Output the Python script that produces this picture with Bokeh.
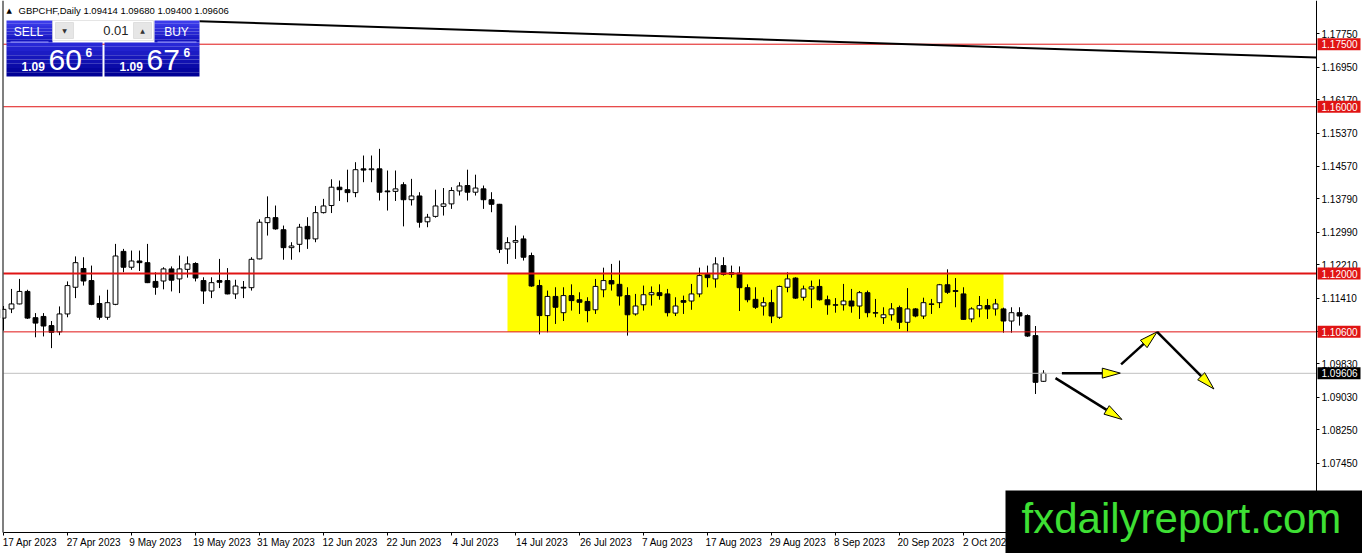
import math
from bokeh.plotting import figure
from bokeh.models import (ColumnDataSource, Range1d, FixedTicker, PrintfTickFormatter,
                          BoxAnnotation, Label)
from bokeh.embed import file_html
from bokeh.resources import INLINE

# GBPCHF daily candles, one per trading day from 17 Apr 2023 to 16 Oct 2023
opens = [1.1093, 1.1115, 1.1127, 1.1157, 1.1094, 1.1097, 1.1075, 1.1060, 1.1103, 1.1167,
         1.1212, 1.1183, 1.1128, 1.1095, 1.1126, 1.1253, 1.1215, 1.1230, 1.1226, 1.1181,
         1.1182, 1.1211, 1.1187, 1.1210, 1.1224, 1.1183, 1.1158, 1.1183, 1.1183, 1.1151,
         1.1167, 1.1166, 1.1235, 1.1322, 1.1334, 1.1305, 1.1262, 1.1270, 1.1313, 1.1283,
         1.1346, 1.1363, 1.1407, 1.1401, 1.1394, 1.1451, 1.1449, 1.1451, 1.1398, 1.1397,
         1.1413, 1.1377, 1.1386, 1.1324, 1.1337, 1.1361, 1.1367, 1.1398, 1.1411, 1.1395,
         1.1403, 1.1377, 1.1366, 1.1259, 1.1275, 1.1283, 1.1243, 1.1171, 1.1099, 1.1145,
         1.1106, 1.1147, 1.1137, 1.1133, 1.1113, 1.1161, 1.1183, 1.1174, 1.1147, 1.1103,
         1.1125, 1.1149, 1.1154, 1.1151, 1.1105, 1.1135, 1.1134, 1.1151, 1.1198, 1.1187,
         1.1219, 1.1198, 1.1201, 1.1166, 1.1138, 1.1122, 1.1130, 1.1095, 1.1167, 1.1189,
         1.1143, 1.1163, 1.1169, 1.1137, 1.1125, 1.1125, 1.1134, 1.1122, 1.1154, 1.1106,
         1.1094, 1.1101, 1.1118, 1.1083, 1.1115, 1.1098, 1.1127, 1.1130, 1.1173, 1.1159,
         1.1151, 1.1091, 1.1115, 1.1123, 1.1115, 1.1115, 1.1086, 1.1106, 1.1099, 1.1051,
         1.09414]
highs = [1.1122, 1.1163, 1.1187, 1.1161, 1.1105, 1.1105, 1.1086, 1.1121, 1.1181, 1.1241,
         1.1239, 1.1219, 1.1147, 1.1161, 1.1271, 1.1259, 1.1255, 1.1255, 1.1271, 1.1203,
         1.1215, 1.1217, 1.1243, 1.1241, 1.1227, 1.1191, 1.1191, 1.1235, 1.1213, 1.1185,
         1.1182, 1.1239, 1.1330, 1.1385, 1.1363, 1.1315, 1.1275, 1.1319, 1.1335, 1.1362,
         1.1379, 1.1426, 1.1423, 1.1449, 1.1467, 1.1483, 1.1483, 1.1499, 1.1447, 1.1447,
         1.1419, 1.1427, 1.1395, 1.1343, 1.1401, 1.1405, 1.1407, 1.1419, 1.1449, 1.1437,
         1.1411, 1.1395, 1.1367, 1.1287, 1.1315, 1.1291, 1.1250, 1.1185, 1.1159, 1.1167,
         1.1167, 1.1174, 1.1155, 1.1143, 1.1187, 1.1214, 1.1223, 1.1231, 1.1167, 1.1151,
         1.1171, 1.1169, 1.1174, 1.1163, 1.1143, 1.1147, 1.1175, 1.1214, 1.1219, 1.1239,
         1.1239, 1.1219, 1.1217, 1.1174, 1.1167, 1.1143, 1.1161, 1.1171, 1.1203, 1.1191,
         1.1171, 1.1183, 1.1186, 1.1147, 1.1141, 1.1175, 1.1163, 1.1158, 1.1159, 1.1139,
         1.1119, 1.1129, 1.1123, 1.1165, 1.1117, 1.1142, 1.1139, 1.1175, 1.1210, 1.1189,
         1.1167, 1.1119, 1.1146, 1.1139, 1.1139, 1.1118, 1.1119, 1.1119, 1.1102, 1.1074,
         1.09680]
lows = [1.1063, 1.1105, 1.1126, 1.1091, 1.1047, 1.1049, 1.1021, 1.1052, 1.1095, 1.1141,
        1.1171, 1.1124, 1.1089, 1.1089, 1.1124, 1.1203, 1.1209, 1.1206, 1.1177, 1.1149,
        1.1162, 1.1157, 1.1153, 1.1190, 1.1181, 1.1127, 1.1141, 1.1165, 1.1150, 1.1139,
        1.1141, 1.1159, 1.1234, 1.1291, 1.1305, 1.1233, 1.1233, 1.1251, 1.1259, 1.1275,
        1.1344, 1.1345, 1.1374, 1.1371, 1.1383, 1.1419, 1.1419, 1.1375, 1.1351, 1.1374,
        1.1313, 1.1363, 1.1310, 1.1311, 1.1334, 1.1339, 1.1355, 1.1387, 1.1375, 1.1387,
        1.1355, 1.1347, 1.1249, 1.1223, 1.1235, 1.1231, 1.1168, 1.1054, 1.1059, 1.1079,
        1.1086, 1.1111, 1.1103, 1.1083, 1.1103, 1.1143, 1.1159, 1.1123, 1.1051, 1.1099,
        1.1111, 1.1123, 1.1137, 1.1097, 1.1098, 1.1103, 1.1113, 1.1143, 1.1167, 1.1166,
        1.1195, 1.1190, 1.1110, 1.1131, 1.1115, 1.1099, 1.1081, 1.1091, 1.1155, 1.1139,
        1.1135, 1.1117, 1.1135, 1.1101, 1.1106, 1.1111, 1.1106, 1.1091, 1.1095, 1.1095,
        1.1079, 1.1087, 1.1067, 1.1061, 1.1095, 1.1091, 1.1103, 1.1117, 1.1151, 1.1119,
        1.1089, 1.1083, 1.1095, 1.1091, 1.1099, 1.1058, 1.1058, 1.1075, 1.1048, 1.0911,
        1.09400]
closes = [1.1114, 1.1127, 1.1157, 1.1093, 1.1081, 1.1074, 1.1059, 1.1103, 1.1171, 1.1226,
          1.1182, 1.1126, 1.1095, 1.1130, 1.1242, 1.1215, 1.1230, 1.1226, 1.1178, 1.1167,
          1.1211, 1.1184, 1.1211, 1.1223, 1.1189, 1.1158, 1.1178, 1.1179, 1.1151, 1.1170,
          1.1165, 1.1234, 1.1323, 1.1334, 1.1307, 1.1262, 1.1266, 1.1311, 1.1283, 1.1346,
          1.1362, 1.1407, 1.1401, 1.1394, 1.1449, 1.1448, 1.1451, 1.1395, 1.1396, 1.1403,
          1.1377, 1.1386, 1.1323, 1.1335, 1.1362, 1.1367, 1.1399, 1.1410, 1.1395, 1.1405,
          1.1377, 1.1366, 1.1258, 1.1274, 1.1279, 1.1239, 1.1170, 1.1099, 1.1145, 1.1119,
          1.1147, 1.1135, 1.1131, 1.1111, 1.1169, 1.1183, 1.1175, 1.1146, 1.1101, 1.1122,
          1.1149, 1.1154, 1.1147, 1.1106, 1.1122, 1.1131, 1.1151, 1.1195, 1.1190, 1.1223,
          1.1198, 1.1202, 1.1166, 1.1137, 1.1119, 1.1130, 1.1098, 1.1169, 1.1187, 1.1141,
          1.1163, 1.1168, 1.1137, 1.1125, 1.1124, 1.1134, 1.1122, 1.1154, 1.1106, 1.1105,
          1.1101, 1.1115, 1.1083, 1.1115, 1.1098, 1.1130, 1.1126, 1.1173, 1.1155, 1.1157,
          1.1090, 1.1115, 1.1123, 1.1115, 1.1127, 1.1086, 1.1106, 1.1098, 1.1050, 1.0939,
          1.09606]

# one date label every 8 bars
date_labels = ["17 Apr 2023", "27 Apr 2023", "9 May 2023", "19 May 2023", "31 May 2023",
               "12 Jun 2023", "22 Jun 2023", "4 Jul 2023", "14 Jul 2023", "26 Jul 2023",
               "7 Aug 2023", "17 Aug 2023", "29 Aug 2023", "8 Sep 2023", "20 Sep 2023",
               "2 Oct 2023"]
price_ticks = [1.17750, 1.16950, 1.16170, 1.15370, 1.14570, 1.13790, 1.12990, 1.12210,
               1.11410, 1.10620, 1.09830, 1.09030, 1.08250, 1.07450]

levels = [1.17500, 1.16000, 1.12000, 1.10600]
ask_price = 1.09676

zone_bars = [63, 125]
zone_prices = [1.10600, 1.12000]

trend_x = [24.5, 164.1]
trend_y = [1.1805, 1.1718]

arrow_x0 = [132.3, 139.7, 144.2, 131.5]
arrow_y0 = [1.0961, 1.0982, 1.1060, 1.0949]
arrow_x1 = [139.6, 144.2, 151.3, 139.8]
arrow_y1 = [1.0961, 1.1060, 1.0923, 1.0850]

# pixel geometry of the chart window
PX_X = 8.0      # px per bar
PX_Y = 4169.0   # px per price unit


def sx(px):
    return (px - 3) / PX_X


def sy(py):
    return 1.12 + (273 - py) / PX_Y


RED = "#e01414"
FONT = "Liberation Sans"

x_lo, x_hi = sx(3), sx(1316)      # chart area
y_lo, y_hi = sy(532), sy(0)

p = figure(width=1362, height=553, output_backend="svg", toolbar_location=None,
           x_range=Range1d(sx(0), sx(1362)), y_range=Range1d(sy(553), sy(0)),
           y_axis_location="right", min_border=0,
           background_fill_color="white", border_fill_color="white",
           outline_line_color=None)
p.grid.visible = False

# price scale
yax = p.yaxis[0]
yax.fixed_location = x_hi
yax.bounds = (y_lo, y_hi)
yax.ticker = FixedTicker(ticks=price_ticks)
yax.formatter = PrintfTickFormatter(format="%.5f")
yax.major_tick_in = 0
yax.major_tick_out = 3
yax.minor_tick_line_color = None
yax.major_label_standoff = 2
yax.major_label_text_font = FONT
yax.major_label_text_font_size = "10px"
yax.major_label_text_color = "black"

# time scale: labels start at their tick, as in the terminal
date_pos = [i * 8 for i in range(len(date_labels))]
label_pos = [d + len(s) * 0.3 for d, s in zip(date_pos, date_labels)]
xax = p.xaxis[0]
xax.fixed_location = y_lo
xax.bounds = (x_lo, x_hi)
xax.ticker = FixedTicker(ticks=label_pos)
xax.major_label_overrides = {pos: lab for pos, lab in zip(label_pos, date_labels)}
xax.major_tick_line_color = None
xax.major_tick_in = 0
xax.major_tick_out = 0
xax.minor_tick_line_color = None
xax.major_label_standoff = 4
xax.major_label_text_font = FONT
xax.major_label_text_font_size = "10px"
xax.major_label_text_color = "black"
p.segment(x0=date_pos, y0=[y_lo] * len(date_pos), x1=date_pos,
          y1=[sy(535)] * len(date_pos), line_color="black", line_width=1)

# support / resistance zone
p.add_layout(BoxAnnotation(left=zone_bars[0], right=zone_bars[1],
                           bottom=zone_prices[0], top=zone_prices[1],
                           fill_color="#ffff00", fill_alpha=1, line_color=None,
                           level="underlay"))

# candles
idx = list(range(len(opens)))
src = ColumnDataSource(dict(
    idx=idx, high=highs, low=lows,
    top=[max(o, c) for o, c in zip(opens, closes)],
    bottom=[min(o, c) for o, c in zip(opens, closes)],
    fill=["white" if c >= o else "black" for o, c in zip(opens, closes)],
))
p.segment(x0="idx", y0="high", x1="idx", y1="low", source=src, line_color="black", line_width=1)
p.vbar(x="idx", width=0.6, top="top", bottom="bottom", source=src,
       fill_color="fill", line_color="black", line_width=1)

# horizontal levels
p.segment(x0=[x_lo] * len(levels), y0=levels, x1=[x_hi] * len(levels), y1=levels,
          line_color=RED, line_width=[2 if lv == 1.12 else 1 for lv in levels])
p.segment(x0=[x_lo], y0=[closes[-1]], x1=[x_hi], y1=[closes[-1]],
          line_color="#c0c0c0", line_width=1)

# trend line
p.line(trend_x, trend_y, line_color="black", line_width=2)

# arrows
HEAD_LEN, HEAD_W = 18.0, 5.0
shaft_xs, shaft_ys, head_xs, head_ys = [], [], [], []
for x0, y0, x1, y1 in zip(arrow_x0, arrow_y0, arrow_x1, arrow_y1):
    dx = (x1 - x0) * PX_X
    dy = (y1 - y0) * PX_Y
    d = math.hypot(dx, dy)
    ux, uy = dx / d, dy / d
    bx, by = x1 - ux * HEAD_LEN / PX_X, y1 - uy * HEAD_LEN / PX_Y
    nx, ny = -uy, ux
    shaft_xs.append([x0, bx])
    shaft_ys.append([y0, by])
    head_xs.append([x1, bx + nx * HEAD_W / PX_X, bx - nx * HEAD_W / PX_X])
    head_ys.append([y1, by + ny * HEAD_W / PX_Y, by - ny * HEAD_W / PX_Y])
p.multi_line(shaft_xs, shaft_ys, line_color="black", line_width=2.5)
p.patches(head_xs, head_ys, fill_color="#ffff00", line_color="black", line_width=1)


def box(x0, x1, y0, y1, color, line=None):
    p.add_layout(BoxAnnotation(left=sx(x0), right=sx(x1), top=sy(y0), bottom=sy(y1),
                               fill_color=color, fill_alpha=1, line_color=line,
                               level="overlay"))


def grad(x0, x1, y0, y1, c0, c1, n=8):
    for k in range(n):
        t = k / (n - 1)
        col = "#%02x%02x%02x" % tuple(int(a + (b - a) * t) for a, b in zip(c0, c1))
        box(x0, x1, y0 + (y1 - y0) * k / n, y0 + (y1 - y0) * (k + 1) / n, col)


def text(x, y, s, size, color="white", font=FONT, align="left", style="normal",
         baseline="middle"):
    p.add_layout(Label(x=sx(x), y=sy(y), text=s, text_font=font, text_font_size=size,
                       text_color=color, text_align=align, text_baseline=baseline,
                       text_font_style=style, level="overlay"))


# left edge of the chart window
box(0, 2, 0, 532, "white")
box(2, 3, 0, 532, "black")

# price labels on the right scale
for lv in levels:
    yy = 273 - (lv - 1.12) * PX_Y
    box(1317, 1360, yy - 6, yy + 6, RED)
    text(1321, yy, "%.5f" % lv, "10px")
yy = 273 - (closes[-1] - 1.12) * PX_Y
box(1317, 1360, yy - 6, yy + 6, "black")
text(1321, yy, "%.5f" % closes[-1], "10px")

# header
text(6, 10, "\u25b2", "7px", color="black", font="DejaVu Sans")
text(18, 10, "GBPCHF,Daily  %.5f %.5f %.5f %.5f" % (opens[-1], highs[-1], lows[-1], closes[-1]),
     "9.5px", color="black")

# one click trading panel
grad(6, 52, 20, 42, (60, 60, 235), (20, 20, 190))
grad(154, 199, 20, 42, (60, 60, 235), (20, 20, 190))
box(52, 153, 20, 40, "white", line="#a8a8a8")
box(55, 73, 22, 38, "#e6e6e6", line="#b4b4b4")
box(133, 151, 22, 38, "#e6e6e6", line="#b4b4b4")
text(64, 30, "\u25bc", "6px", color="#333333", font="DejaVu Sans", align="center")
text(142, 30, "\u25b2", "6px", color="#333333", font="DejaVu Sans", align="center")
text(128, 30, "0.01", "13px", color="#222222", align="right")
text(28, 31, "SELL", "12px", align="center")
text(176, 31, "BUY", "12px", align="center")
grad(6, 102, 42, 76, (40, 40, 215), (0, 0, 150))
grad(104, 199, 42, 76, (40, 40, 215), (0, 0, 150))
box(10, 48, 41, 42, "#9a9aff")
box(157, 196, 41, 42, "#9a9aff")
for x_big, bid_ask in ((21, closes[-1]), (119, ask_price)):
    s = "%.5f" % bid_ask
    text(x_big, 65.5, s[:4], "12px", style="bold", baseline="alphabetic")
    text(x_big + 27, 59, s[4:6], "30px", baseline="alphabetic")
    text(x_big + 64, 51.5, s[6], "12px", style="bold", baseline="alphabetic")

# watermark
box(1005, 1362, 490, 553, "black")
text(1021, 517.5, "fxdailyreport.com", "42px", color="#3ee034", baseline="alphabetic")

open("out.html", "w").write(file_html(p, INLINE))
